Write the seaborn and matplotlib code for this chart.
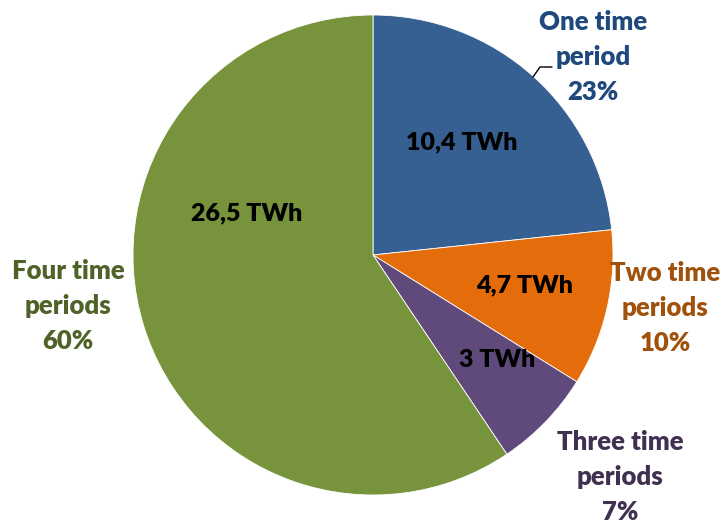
import matplotlib
matplotlib.use("Agg")
from matplotlib import pyplot as plt
import seaborn as sns

# share of volume by number of time periods
categories = ["One time\nperiod", "Two time\nperiods", "Three time\nperiods", "Four time\nperiods"]
energy_twh = [10.4, 4.7, 3.0, 26.5]
energy_labels = ["10,4 TWh", "4,7 TWh", "3 TWh", "26,5 TWh"]
percent_labels = ["23%", "10%", "7%", "60%"]

slice_colors = ["#376092", "#E46C0A", "#604A7B", "#77933C"]
text_colors = ["#1F497D", "#A0520C", "#403151", "#4F6228"]

# label anchors in pixel space (x from left, y from top)
inner_pos = [(462, 142), (525, 285), (497, 360), (247, 213)]
outer_pos = [(593, 57), (665, 308), (620, 477), (68, 306)]

W, H = 727, 524
CX, CY, R = 373, 255, 240

sns.set_theme(style="white")
plt.rcParams['font.family'] = ['Lato', 'DejaVu Sans']

fig = plt.figure(figsize=(W / 100, H / 100), dpi=100)
ax = fig.add_axes([0, 0, 1, 1])

ax.pie(energy_twh, colors=slice_colors, startangle=90, counterclock=False,
       center=(CX, H - CY), radius=R, wedgeprops=dict(linewidth=0.6, edgecolor='white'))

ax.set_xlim(0, W)
ax.set_ylim(0, H)
ax.set_aspect('equal')
ax.axis('off')

for (x, y), txt in zip(inner_pos, energy_labels):
    ax.text(x, H - y, txt, ha='center', va='center', fontsize=18,
            fontweight='heavy', color='black')

for (x, y), cat, pct, col in zip(outer_pos, categories, percent_labels, text_colors):
    ax.text(x, H - y, cat + "\n" + pct, ha='center', va='center', fontsize=18.5,
            fontweight='heavy', color=col, linespacing=1.55)

# small leader line for the first label
ax.plot([533, 540, 552], [H - 77, H - 67, H - 67], color='black', linewidth=1)

fig.savefig("out.png", dpi=100)
plt.close()
